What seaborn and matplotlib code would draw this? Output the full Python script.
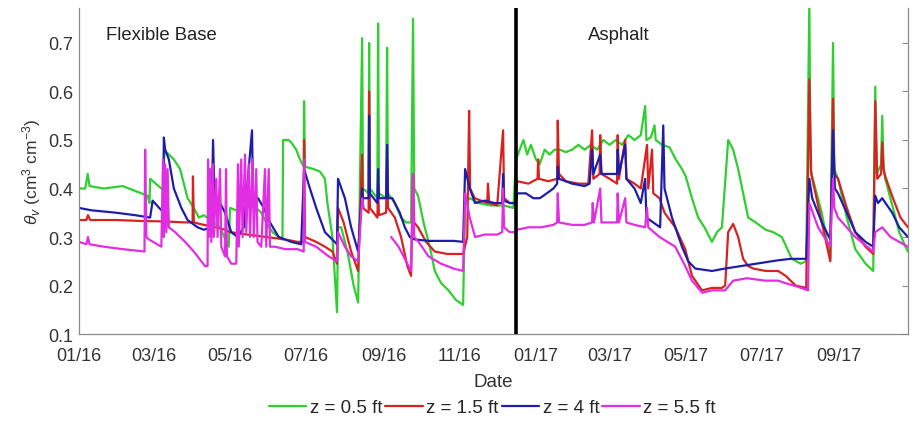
import numpy as np
import pandas as pd
import matplotlib
matplotlib.use("Agg")
import matplotlib.pyplot as plt
import matplotlib.dates as mdates
import seaborn as sns

# ---------------- data (days since 2016-01-01, volumetric water content) ----------------
start_date = "2016-01-01"
series_labels = ["z = 0.5 ft", "z = 1.5 ft", "z = 4 ft", "z = 5.5 ft"]
tick_dates = ["2016-01-01", "2016-03-01", "2016-05-01", "2016-07-01", "2016-09-01",
              "2016-11-01", "2017-01-01", "2017-03-01", "2017-05-01", "2017-07-01", "2017-09-01"]
divider_day = 350
region_labels = ["Flexible Base", "Asphalt"]

green_days = [0, 5, 7, 8.5, 20, 35, 45, 55, 56.5, 57, 66, 67.3, 68.5, 70, 76, 81, 83, 87, 92, 96,
              100, 108, 113, 118, 120, 121, 126, 133, 140, 146, 150, 155, 160, 163, 163.5, 168, 170,
              174, 177, 180, 180.3, 181, 188, 193, 197, 199, 203, 206.7, 207.5, 210, 215, 220, 223.6,
              226.8, 227.5, 232, 232.4, 233, 239, 239.6, 240.3, 246, 246.8, 247.5, 253, 258, 262, 266,
              267.6, 268.5, 271.6, 276, 281, 285, 290, 296, 302, 307.7, 309.3, 313, 320, 330, 340,
              348, 350, 353, 356, 359, 362, 366, 369, 373, 377, 381, 385, 390, 395, 400, 405, 410,
              415, 420, 425, 430, 435, 440, 445, 450, 453.5, 454.5, 458, 461, 462, 467, 473, 478,
              483, 486, 491, 496, 501, 507, 511, 515, 520, 524, 528, 532, 536, 542, 550, 556, 563,
              571, 578, 582.5, 585, 586, 587.3, 595, 601.8, 604, 605, 608, 615, 621.8, 630, 636.2,
              637.8, 639, 642.5, 643.4, 644.5, 645.8, 652, 657, 662, 664]
green_vals = [0.40, 0.40, 0.43, 0.405, 0.40, 0.405, 0.395, 0.385, 0.37, 0.42, 0.40, 0.40, 0.48,
              0.475, 0.46, 0.44, 0.42, 0.38, 0.36, 0.34, 0.345, 0.33, 0.32, 0.29, 0.28, 0.36, 0.355,
              0.36, 0.365, 0.35, 0.33, 0.31, 0.30, 0.295, 0.50, 0.50, 0.495, 0.48, 0.46, 0.445,
              0.58, 0.445, 0.44, 0.435, 0.42, 0.37, 0.30, 0.145, 0.32, 0.32, 0.27, 0.20, 0.165,
              0.71, 0.40, 0.39, 0.70, 0.40, 0.38, 0.74, 0.39, 0.38, 0.69, 0.39, 0.37, 0.34, 0.33,
              0.33, 0.75, 0.40, 0.385, 0.33, 0.28, 0.23, 0.205, 0.19, 0.17, 0.16, 0.37, 0.38, 0.37,
              0.365, 0.365, 0.36, 0.46, 0.48, 0.50, 0.47, 0.49, 0.46, 0.45, 0.48, 0.47, 0.48, 0.48,
              0.475, 0.48, 0.49, 0.48, 0.49, 0.48, 0.50, 0.49, 0.50, 0.49, 0.51, 0.50, 0.51, 0.57,
              0.50, 0.505, 0.53, 0.50, 0.49, 0.485, 0.46, 0.44, 0.425, 0.38, 0.34, 0.32, 0.29,
              0.31, 0.32, 0.50, 0.48, 0.44, 0.39, 0.34, 0.33, 0.315, 0.31, 0.30, 0.255, 0.245,
              0.25, 0.78, 0.44, 0.425, 0.35, 0.255, 0.70, 0.44, 0.42, 0.34, 0.275, 0.245, 0.23,
              0.61, 0.43, 0.45, 0.55, 0.44, 0.42, 0.36, 0.31, 0.28, 0.27]

red_days = [0, 6, 7.2, 9, 30, 50, 70, 85, 91, 91.3, 92, 100, 110, 117, 121, 135, 150, 165, 175,
            180, 180.3, 181, 190, 197, 203, 206.7, 207.5, 212, 218, 223.6, 226.8, 227.5, 232, 232.4,
            233, 239, 239.6, 240.3, 246, 246.8, 247.5, 253, 258, 263, 266, 267.6, 268.5, 271.6,
            278, 285, 295, 307.7, 311, 312.5, 313.3, 317, 322, 327, 327.6, 328.5, 335, 339.7,
            340.5, 345, 350, 351, 360, 367.3, 367.8, 368.5, 376, 383, 383.5, 384.5, 390, 400, 408,
            411, 412, 417, 417.5, 418.5, 425, 431, 431.5, 432.5, 437.5, 438.5, 445, 450, 455, 456,
            459, 460, 465, 469, 477.6, 485.6, 491, 499, 507, 515, 517.6, 520, 524, 528, 532, 536,
            540, 550, 560, 566, 574, 582.5, 585, 586.5, 595, 601.8, 604, 605, 608, 615, 621.8,
            630, 636.2, 637.8, 639.4, 642.5, 643.4, 644.5, 645.8, 652, 658, 664]
red_vals = [0.335, 0.335, 0.345, 0.335, 0.335, 0.333, 0.332, 0.33, 0.33, 0.425, 0.33, 0.325,
            0.32, 0.315, 0.31, 0.305, 0.30, 0.295, 0.29, 0.29, 0.50, 0.30, 0.29, 0.28, 0.27,
            0.245, 0.36, 0.33, 0.27, 0.23, 0.47, 0.36, 0.35, 0.60, 0.36, 0.34, 0.40, 0.345, 0.35,
            0.46, 0.36, 0.34, 0.30, 0.24, 0.22, 0.43, 0.33, 0.32, 0.29, 0.27, 0.265, 0.265, 0.30,
            0.56, 0.40, 0.38, 0.375, 0.37, 0.41, 0.37, 0.365, 0.52, 0.38, 0.37, 0.37, 0.415, 0.41,
            0.42, 0.46, 0.42, 0.415, 0.42, 0.54, 0.43, 0.415, 0.41, 0.41, 0.52, 0.42, 0.43, 0.51,
            0.43, 0.42, 0.41, 0.51, 0.42, 0.50, 0.42, 0.41, 0.40, 0.49, 0.40, 0.48, 0.39, 0.38,
            0.35, 0.32, 0.275, 0.22, 0.19, 0.195, 0.195, 0.20, 0.31, 0.327, 0.30, 0.255, 0.24,
            0.235, 0.23, 0.23, 0.22, 0.20, 0.195, 0.625, 0.43, 0.33, 0.25, 0.585, 0.43, 0.42,
            0.36, 0.31, 0.28, 0.265, 0.58, 0.42, 0.43, 0.495, 0.44, 0.425, 0.38, 0.34, 0.32]

blue_days = [0, 10, 30, 45, 57, 59, 66, 67.3, 68, 69, 72, 76, 82, 87, 95, 100, 106, 107.4, 108.5,
             113, 117, 122, 127, 132, 138.6, 139.5, 143.4, 148, 153, 160, 170, 178, 180.3, 185,
             190, 197, 206.7, 207.5, 213, 218, 223.6, 226.8, 227.5, 232, 232.4, 233, 239, 239.6,
             240.3, 246, 246.8, 247.5, 251, 257, 261, 265, 269, 280, 300, 307.7, 309.3, 313,
             317.3, 325, 333, 339, 339.7, 340.5, 345, 350, 351, 358, 364, 369, 372, 380, 383,
             383.5, 384.5, 395, 405, 409, 411, 412, 417.5, 418.5, 425, 431, 431.5, 432.5, 437.5,
             438.5, 445, 450, 453.5, 454.5, 460, 465.5, 468, 469, 475, 483, 488, 493.6, 507,
             517.6, 535, 549.7, 560, 570, 582.5, 585, 587.3, 595, 601.8, 604, 605.5, 608, 615,
             621.8, 630, 636.2, 637.8, 640, 643.4, 646, 651.4, 657, 664]
blue_vals = [0.36, 0.355, 0.35, 0.345, 0.34, 0.375, 0.355, 0.355, 0.505, 0.48, 0.46, 0.40, 0.36,
             0.335, 0.32, 0.315, 0.32, 0.50, 0.39, 0.37, 0.35, 0.31, 0.30, 0.32, 0.52, 0.38, 0.38,
             0.36, 0.33, 0.30, 0.29, 0.285, 0.44, 0.40, 0.36, 0.31, 0.285, 0.42, 0.38, 0.32, 0.27,
             0.40, 0.38, 0.38, 0.55, 0.39, 0.37, 0.44, 0.38, 0.38, 0.49, 0.38, 0.38, 0.35, 0.32,
             0.30, 0.295, 0.292, 0.292, 0.29, 0.44, 0.40, 0.37, 0.375, 0.37, 0.37, 0.43, 0.375,
             0.37, 0.37, 0.39, 0.39, 0.38, 0.38, 0.385, 0.40, 0.41, 0.445, 0.42, 0.41, 0.405,
             0.41, 0.48, 0.43, 0.47, 0.43, 0.43, 0.43, 0.48, 0.43, 0.49, 0.42, 0.40, 0.37, 0.42,
             0.34, 0.33, 0.32, 0.53, 0.40, 0.34, 0.28, 0.25, 0.235, 0.23, 0.235, 0.242, 0.248,
             0.252, 0.255, 0.255, 0.42, 0.38, 0.33, 0.295, 0.52, 0.40, 0.39, 0.35, 0.31, 0.29,
             0.28, 0.385, 0.37, 0.38, 0.37, 0.35, 0.32, 0.30]

magenta_days = [0, 6, 7.2, 8.5, 20, 35, 52.5, 53, 54, 56, 66, 67.3, 68, 69, 70, 71, 72, 77, 85, 92,
                98, 101, 103, 103.4, 104, 105, 106, 107.4, 108, 110, 111, 113, 114, 117, 117.8,
                118.5, 122, 126, 127.4, 128, 130, 131, 133, 134, 136, 137, 139, 140, 142, 143, 146,
                149, 150, 152, 153, 157, 165, 175, 180, 180.3, 181, 190, 200, 206.7, 207.5, 213,
                218, 223.6, 226.8, 228, 229, 250, 256, 262, 266, 267.6, 268.5, 272, 280, 290, 300,
                307.7, 309.3, 313, 317.3, 325, 335, 339, 339.7, 340.5, 345, 350, 351, 360, 370,
                380, 383, 383.5, 384.5, 395, 405, 411, 411.5, 412.5, 417.5, 418.5, 425, 431, 431.5,
                432.5, 437.5, 438.5, 445, 453.5, 455, 456, 465, 477.6, 485.6, 491, 499.2, 507,
                517.6, 524, 535, 549.7, 560, 565.7, 575, 584, 585, 592, 601.8, 604, 605, 608,
                621.8, 636.2, 637.8, 643.4, 650, 664]
magenta_vals = [0.29, 0.285, 0.30, 0.285, 0.28, 0.275, 0.27, 0.48, 0.30, 0.295, 0.28, 0.46, 0.30,
                0.45, 0.31, 0.44, 0.32, 0.31, 0.29, 0.27, 0.25, 0.24, 0.24, 0.46, 0.30, 0.44, 0.29,
                0.45, 0.30, 0.42, 0.30, 0.44, 0.28, 0.26, 0.44, 0.26, 0.245, 0.245, 0.45, 0.28,
                0.46, 0.30, 0.47, 0.31, 0.45, 0.30, 0.46, 0.30, 0.44, 0.29, 0.28, 0.44, 0.28, 0.44,
                0.28, 0.28, 0.275, 0.275, 0.27, 0.46, 0.29, 0.28, 0.26, 0.25, 0.31, 0.28, 0.26,
                0.25, 0.38, 0.36, np.nan, 0.30, 0.28, 0.25, 0.23, 0.43, 0.30, 0.29, 0.26, 0.245,
                0.235, 0.23, 0.39, 0.34, 0.30, 0.305, 0.305, 0.31, 0.40, 0.32, 0.31, 0.31, 0.315,
                0.32, 0.32, 0.325, 0.33, 0.39, 0.33, 0.325, 0.325, 0.33, 0.37, 0.33, 0.40, 0.33,
                0.33, 0.33, 0.39, 0.33, 0.38, 0.33, 0.325, 0.32, 0.36, 0.32, 0.30, 0.28, 0.24,
                0.21, 0.185, 0.19, 0.19, 0.21, 0.215, 0.21, 0.21, 0.205, 0.198, 0.19, 0.37, 0.32,
                0.28, 0.42, 0.36, 0.34, 0.30, 0.27, 0.31, 0.32, 0.30, 0.28]

colors = ["#2fcf2f", "#d82222", "#1e1eaa", "#e22ee2"]

# ---------------- build long table ----------------
origin = pd.Timestamp(start_date)
rows = []
for lab, days, vals in zip(series_labels,
                           [green_days, red_days, blue_days, magenta_days],
                           [green_vals, red_vals, blue_vals, magenta_vals]):
    seg = 0
    for d, v in zip(days, vals):
        if v is None or (isinstance(v, float) and np.isnan(v)):
            seg += 1
            continue
        rows.append({"date": origin + pd.Timedelta(days=d), "theta": v, "depth": lab, "seg": seg})
df = pd.DataFrame(rows)

# ---------------- plot ----------------
sns.set_style("white")
plt.rcParams["font.family"] = ["Liberation Sans", "DejaVu Sans"]
plt.rcParams["mathtext.fontset"] = "custom"
plt.rcParams["mathtext.rm"] = "Liberation Sans"
plt.rcParams["mathtext.it"] = "Liberation Sans:italic"

fig = plt.figure(figsize=(9.15, 4.31), dpi=100)
ax = fig.add_axes([0.0863, 0.2227, 0.9060, 0.7563])

sns.lineplot(data=df, x="date", y="theta", hue="depth", units="seg", estimator=None,
             sort=False, palette=dict(zip(series_labels, colors)), hue_order=series_labels,
             linewidth=1.6, ax=ax)

ax.axvline(origin + pd.Timedelta(days=divider_day), color="black", linewidth=2.6, zorder=5)

ax.set_xlim(origin, origin + pd.Timedelta(days=664))
ax.set_ylim(0.1, 0.772)
ax.set_yticks([0.1, 0.2, 0.3, 0.4, 0.5, 0.6, 0.7])
ax.set_xticks(pd.to_datetime(tick_dates))
ax.xaxis.set_major_formatter(mdates.DateFormatter("%m/%y"))

ax.set_xlabel("Date", fontsize=13.5, color="#333333", labelpad=7)
ax.set_ylabel(r"$\theta_{v}$ (cm$^{3}$ cm$^{-3}$)", fontsize=12.5, color="#333333", labelpad=4)

for side in ["left", "bottom", "right"]:
    ax.spines[side].set_color("#8a8a8a")
    ax.spines[side].set_linewidth(0.9)
ax.spines["top"].set_visible(False)
ax.tick_params(axis="both", direction="in", length=4, color="#8a8a8a",
               labelsize=13, labelcolor="#333333", right=True)
ax.tick_params(axis="x", pad=9)
ax.tick_params(axis="y", pad=4)

ax.text(origin + pd.Timedelta(days=22), 0.718, region_labels[0], fontsize=13.3,
        color="#222222", va="center", ha="left")
ax.text(origin + pd.Timedelta(days=408), 0.718, region_labels[1], fontsize=13.3,
        color="#222222", va="center", ha="left")

handles, labels = ax.get_legend_handles_labels()
ax.get_legend().remove()
leg = fig.legend(handles, labels, loc="center", bbox_to_anchor=(0.538, 0.052), ncol=4,
                 frameon=False, fontsize=13.5, handlelength=2.0, handletextpad=0.2,
                 columnspacing=0.15)
for h in leg.get_lines():
    h.set_linewidth(1.6)

fig.savefig("out.png", dpi=100)
